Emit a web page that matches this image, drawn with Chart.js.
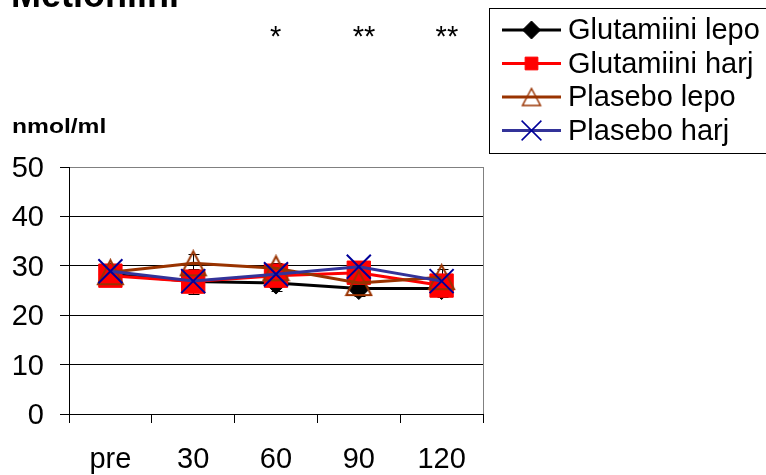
<!DOCTYPE html>
<html>
<head>
<meta charset="utf-8">
<script src="https://cdn.jsdelivr.net/npm/chart.js@4/dist/chart.umd.min.js"></script>
<style>
    html, body { margin: 0; padding: 0; background: #fff; }
    #lineChart { display: block; }
</style>
</head>
<body>
<canvas id="lineChart" width="766" height="475"></canvas>
<script>
// Data
const labels = ["pre", "30", "60", "90", "120"];
const glutLepo = [28.3, 26.8, 26.5, 25.4, 25.4];
const glutHarj = [28.0, 26.8, 28.0, 28.6, 26.0];
const plaLepo = [28.7, 30.5, 29.5, 26.5, 27.7];
const plaHarj = [28.9, 26.9, 28.3, 29.8, 26.9];
const glutLepoErr = [1.0, 2.6, 1.5, 1.5, 1.8];
const plaLepoErr = [1.0, 1.8, 1.0, 1.0, 1.6];
const stars = ["", "", "*", "**", "**"];
const yMin = 0;
const yMax = 50;
const yStep = 10;

const FONT = "'Liberation Sans', Arial, sans-serif";
Chart.defaults.font.family = FONT;
Chart.defaults.color = "#000";

// hollow triangle marker, centred on its box like the spreadsheet one
function triangleMarker(w, h, color, lw) {
    const c = document.createElement("canvas");
    c.width = w + 4;
    c.height = h + 4;
    const ctx = c.getContext("2d");
    ctx.strokeStyle = color;
    ctx.lineWidth = lw;
    ctx.lineJoin = "miter";
    ctx.beginPath();
    ctx.moveTo(c.width / 2, 2);
    ctx.lineTo(w + 2, h + 2);
    ctx.lineTo(2, h + 2);
    ctx.closePath();
    ctx.stroke();
    return c;
}

const triBig = triangleMarker(25, 24, "#993300", 2);
const triSmall = triangleMarker(18, 17, "#993300", 1.5);

// Error bars under the markers
const errorBars = {
    id: "errorBars",
    beforeDatasetsDraw(chart) {
        const ctx = chart.ctx;
        const ys = chart.scales.y;
        chart.data.datasets.forEach((ds, i) => {
            if (!ds.errors) return;
            const meta = chart.getDatasetMeta(i);
            ctx.save();
            ctx.strokeStyle = "#000";
            ctx.lineWidth = 1;
            meta.data.forEach((pt, j) => {
                const v = ds.data[j];
                const e = ds.errors[j];
                const x = Math.round(pt.x) + 0.5;
                const top = Math.round(ys.getPixelForValue(v + e)) + 0.5;
                const bot = Math.round(ys.getPixelForValue(v - e)) + 0.5;
                ctx.beginPath();
                ctx.moveTo(x, top);
                ctx.lineTo(x, bot);
                ctx.moveTo(x - 5, top);
                ctx.lineTo(x + 6, top);
                ctx.moveTo(x - 5, bot);
                ctx.lineTo(x + 6, bot);
                ctx.stroke();
            });
            ctx.restore();
        });
    },
};

// Plot frame on the right side
const frame = {
    id: "frame",
    beforeDatasetsDraw(chart) {
        const { ctx, chartArea } = chart;
        ctx.save();
        ctx.strokeStyle = "#808080";
        ctx.lineWidth = 1;
        ctx.beginPath();
        ctx.moveTo(chartArea.right + 0.5, chartArea.top);
        ctx.lineTo(chartArea.right + 0.5, chartArea.bottom);
        ctx.stroke();
        ctx.restore();
    },
};

// Title, unit, significance stars and boxed legend
const texts = {
    id: "texts",
    afterDraw(chart) {
        const ctx = chart.ctx;
        const xs = chart.scales.x;
        ctx.save();
        ctx.fillStyle = "#000";
        ctx.textBaseline = "alphabetic";
        ctx.textAlign = "left";

        ctx.font = "bold 36px " + FONT;
        ctx.fillText("Metioniini", 11, 7);

        // unit label is drawn a bit wide
        ctx.save();
        ctx.translate(12, 133);
        ctx.scale(1.2, 1);
        ctx.font = "bold 20.5px " + FONT;
        ctx.fillText("nmol/ml", 0, 0);
        ctx.restore();

        ctx.font = "29px " + FONT;
        stars.forEach((s, i) => {
            if (s) ctx.fillText(s, xs.getPixelForValue(i) - 6, 46);
        });

        // legend
        ctx.fillStyle = "#fff";
        ctx.fillRect(489.5, 8.5, 300, 145);
        ctx.strokeStyle = "#000";
        ctx.lineWidth = 1;
        ctx.strokeRect(489.5, 8.5, 300, 145);

        chart.data.datasets.forEach((ds, i) => {
            const y = 30 + i * 33.5;
            ctx.strokeStyle = ds.borderColor;
            ctx.lineWidth = 3;
            ctx.beginPath();
            ctx.moveTo(502, y);
            ctx.lineTo(561, y);
            ctx.stroke();

            ctx.fillStyle = ds.pointBackgroundColor;
            ctx.strokeStyle = ds.pointBorderColor;
            ctx.lineWidth = ds.legendBorder;
            Chart.helpers.drawPoint(ctx, {
                pointStyle: ds.legendStyle,
                rotation: 0,
                radius: ds.legendRadius,
                borderWidth: ds.legendBorder,
            }, 531.5, y);

            ctx.fillStyle = "#000";
            ctx.font = "29px " + FONT;
            ctx.textBaseline = "middle";
            ctx.fillText(ds.label, 568, y + 1);
        });
        ctx.restore();
    },
};

const lineChart = document.getElementById("lineChart");

new Chart(lineChart, {
    type: "line",
    data: {
        labels: labels,
        datasets: [
            {
                label: "Glutamiini lepo",
                data: glutLepo,
                errors: glutLepoErr,
                borderColor: "#000000",
                borderWidth: 3,
                pointStyle: "rectRot",
                pointRadius: 11,
                pointBackgroundColor: "#000000",
                pointBorderColor: "#000000",
                pointBorderWidth: 1,
                legendStyle: "rectRot",
                legendRadius: 9,
                legendBorder: 1,
                order: 4,
            },
            {
                label: "Glutamiini harj",
                data: glutHarj,
                borderColor: "#ff0000",
                borderWidth: 3,
                pointStyle: "rect",
                pointRadius: 16.5,
                pointBackgroundColor: "#ff0000",
                pointBorderColor: "#ff0000",
                pointBorderWidth: 1,
                legendStyle: "rect",
                legendRadius: 9,
                legendBorder: 1,
                order: 3,
            },
            {
                label: "Plasebo lepo",
                data: plaLepo,
                errors: plaLepoErr,
                borderColor: "#993300",
                borderWidth: 3,
                pointStyle: triBig,
                pointRadius: 13,
                pointBackgroundColor: "rgba(0,0,0,0)",
                pointBorderColor: "#993300",
                pointBorderWidth: 2,
                legendStyle: triSmall,
                legendRadius: 9,
                legendBorder: 1.5,
                order: 2,
            },
            {
                label: "Plasebo harj",
                data: plaHarj,
                borderColor: "#333399",
                borderWidth: 3,
                pointStyle: "crossRot",
                pointRadius: 17,
                pointBackgroundColor: "#000099",
                pointBorderColor: "#000099",
                pointBorderWidth: 2,
                legendStyle: "crossRot",
                legendRadius: 14,
                legendBorder: 1.5,
                order: 1,
            },
        ],
    },
    options: {
        responsive: false,
        animation: false,
        devicePixelRatio: 1,
        layout: {
            padding: { left: 0, top: 167, right: 283, bottom: 0 },
        },
        elements: {
            line: { tension: 0 },
        },
        scales: {
            x: {
                offset: true,
                grid: {
                    offset: true,
                    drawOnChartArea: false,
                    drawTicks: true,
                    tickLength: 9,
                    color: "#000",
                },
                border: { color: "#000", width: 1 },
                ticks: {
                    font: { size: 29 },
                    color: "#000",
                    padding: 20,
                    maxRotation: 0,
                },
                afterFit(scale) {
                    scale.height = 61;
                },
            },
            y: {
                min: yMin,
                max: yMax,
                grid: {
                    color: (c) => (c.tick && c.tick.value === yMax ? "#808080" : "#000"),
                    tickColor: "#000",
                    drawTicks: true,
                    tickLength: 9,
                },
                border: { color: "#000", width: 1 },
                ticks: {
                    stepSize: yStep,
                    font: { size: 29 },
                    color: "#000",
                    padding: 16,
                    labelOffset: 2,
                },
                afterFit(scale) {
                    scale.width = 69;
                },
            },
        },
        plugins: {
            legend: { display: false },
            tooltip: { enabled: false },
            title: { display: false },
        },
    },
    plugins: [frame, errorBars, texts],
});
</script>
</body>
</html>
